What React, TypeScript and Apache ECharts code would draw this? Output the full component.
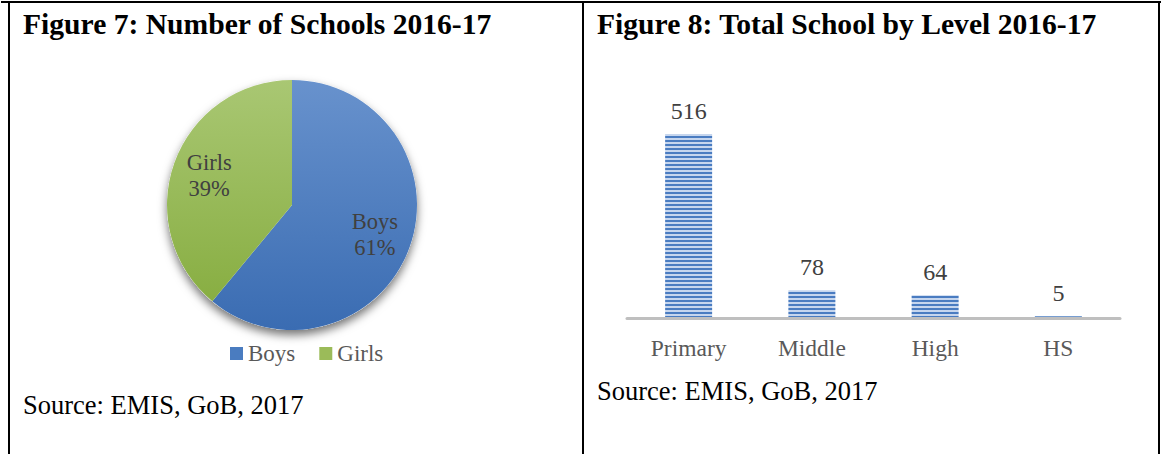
import React, { useEffect, useRef } from "react";
import * as echarts from "echarts";

const pieNames = ["Boys", "Girls"];
const pieValues = [61, 39];
const barCategories = ["Primary", "Middle", "High", "HS"];
const barValues = [516, 78, 64, 5];

const SERIF = "Liberation Serif";

function makeStripe(): HTMLCanvasElement {
  const c = document.createElement("canvas");
  c.width = 4;
  c.height = 4;
  const ctx = c.getContext("2d")!;
  ctx.fillStyle = "#C6D6EE";
  ctx.fillRect(0, 0, 4, 4);
  ctx.fillStyle = "#4A7CC1";
  ctx.fillRect(0, 0, 4, 2);
  return c;
}

export default function App() {
  const ref = useRef<HTMLDivElement>(null);
  useEffect(() => {
    if (!ref.current) return;
    const chart = echarts.init(ref.current, null, { renderer: "svg" });
    const total = pieValues.reduce((a, b) => a + b, 0);
    const pieGrad = [
      new echarts.graphic.LinearGradient(0, 0, 0, 1, [
        { offset: 0, color: "#6892CD" },
        { offset: 1, color: "#3A6CB2" },
      ]),
      new echarts.graphic.LinearGradient(0, 0, 0, 1, [
        { offset: 0, color: "#A9C773" },
        { offset: 1, color: "#88AE42" },
      ]),
    ];
    const legendColors = ["#4A7CC0", "#9BBB59"];
    const center = [292, 205];
    const line = (x1: number, y1: number, x2: number, y2: number) => ({
      type: "line",
      shape: { x1, y1, x2, y2 },
      style: { stroke: "#000", lineWidth: 2 },
      silent: true,
    });
    const txt = (x: number, y: number, text: string, size: number, bold = false) => ({
      type: "text",
      x,
      y,
      style: {
        text,
        fontFamily: SERIF,
        fontSize: size,
        fontWeight: bold ? "bold" : "normal",
        fill: "#000",
        textVerticalAlign: "middle",
        verticalAlign: "middle",
      },
      silent: true,
    });
    chart.setOption({
      animation: false,
      backgroundColor: "#fff",
      legend: {
        data: pieNames.map((n, i) => ({ name: n, itemStyle: { color: legendColors[i] } })),
        left: 225,
        top: 337,
        icon: "rect",
        itemWidth: 13,
        itemHeight: 13,
        itemGap: 24,
        textStyle: { fontFamily: SERIF, fontSize: 23, color: "#595959" },
        selectedMode: false,
      },
      grid: { left: 627, right: 42, top: 104, bottom: 136 },
      xAxis: {
        type: "category",
        z: 5,
        data: barCategories,
        axisLine: { show: true, lineStyle: { color: "#BFBFBF", width: 3 } },
        axisTick: { show: false },
        axisLabel: { color: "#595959", fontFamily: SERIF, fontSize: 23.5, margin: 18 },
        splitLine: { show: false },
      },
      yAxis: { type: "value", min: 0, max: 600, show: false, splitLine: { show: false } },
      graphic: [
        line(1, 2, 1161, 2),
        line(9, 1, 9, 454),
        line(583, 1, 583, 454),
        line(1159, 1, 1159, 454),
        txt(23, 24, "Figure 7: Number of Schools 2016-17", 29.6, true),
        txt(597, 24, "Figure 8: Total School by Level 2016-17", 29.6, true),
        txt(23, 405, "Source: EMIS, GoB, 2017", 26.5),
        txt(597, 391, "Source: EMIS, GoB, 2017", 26.5),
      ],
      series: [
        {
          type: "pie",
          name: "pieShadow",
          z: 1,
          silent: true,
          center,
          radius: 125,
          label: { show: false },
          labelLine: { show: false },
          data: [
            {
              value: total,
              name: "_total",
              itemStyle: {
                color: "#fff",
                shadowBlur: 10,
                shadowOffsetY: 5,
                shadowColor: "rgba(0,0,0,0.55)",
              },
            },
          ],
        },
        {
          type: "pie",
          z: 2,
          silent: true,
          center,
          radius: 125,
          startAngle: 90,
          clockwise: true,
          label: { show: false },
          labelLine: { show: false },
          itemStyle: { borderWidth: 0 },
          data: pieNames.map((n, i) => ({
            name: n,
            value: pieValues[i],
            itemStyle: { color: pieGrad[i], borderWidth: 0 },
          })),
        },
        {
          type: "pie",
          z: 3,
          silent: true,
          center,
          radius: [45, 125],
          startAngle: 90,
          clockwise: true,
          itemStyle: { color: "rgba(0,0,0,0)", borderWidth: 0 },
          labelLine: { show: false },
          label: {
            show: true,
            position: "inside",
            formatter: "{b}\n{d}%",
            fontFamily: SERIF,
            fontSize: 22.5,
            lineHeight: 26,
            color: "#404040",
            textBorderWidth: 0,
          },
          data: pieNames.map((n, i) => ({ name: n, value: pieValues[i] })),
        },
        {
          type: "bar",
          data: barValues,
          barWidth: 47,
          silent: true,
          itemStyle: {
            color: { image: makeStripe(), repeat: "repeat" },
          },
          label: {
            show: true,
            position: "top",
            distance: 11,
            fontFamily: SERIF,
            fontSize: 24,
            color: "#404040",
          },
        },
      ],
    });
    return () => chart.dispose();
  }, []);
  return (
    <div
      ref={ref}
      style={{ position: "absolute", left: 0, top: 0, width: 1162, height: 454 }}
    />
  );
}
